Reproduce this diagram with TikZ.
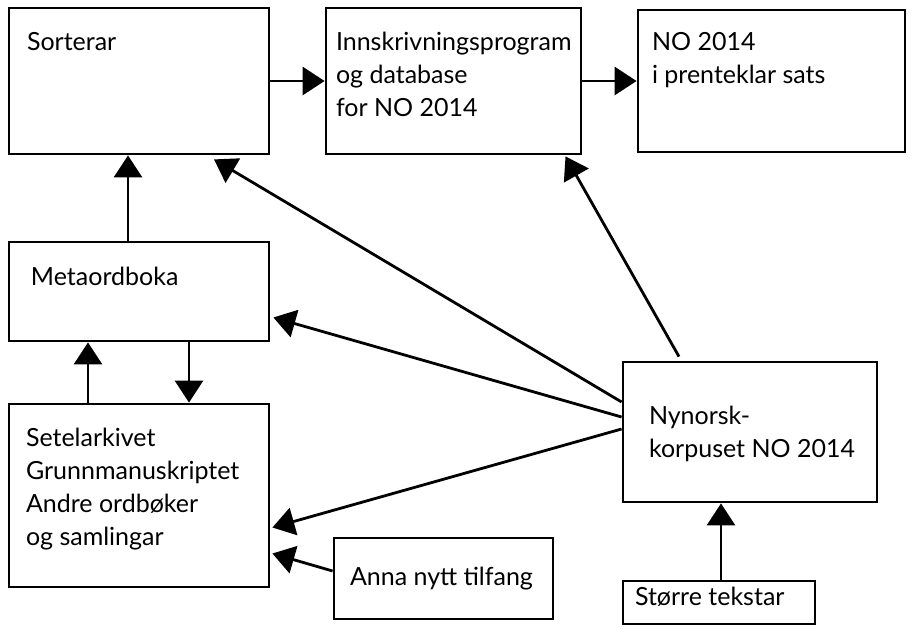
\documentclass[tikz,border=0pt]{standalone}
\usepackage{fontspec}
\setmainfont{Lato}
\usetikzlibrary{arrows.meta}

\tikzset{
  box/.style={draw, line width=1.4pt, inner sep=0pt},
  txt/.style={anchor=base west, align=left, inner sep=0pt,
    font=\fontsize{12.5}{16.5}\selectfont},
  arr/.style={line width=1.4pt, -{Triangle[length=11pt,width=14pt]}},
}

\begin{document}
\begin{tikzpicture}[x=0.5pt,y=-0.5pt]

  \useasboundingbox (0,0) rectangle (912,628);

  % boxes
  \node[box, minimum width=130pt, minimum height=73pt] (sort) at (139,81) {};
  \node[box, minimum width=127.5pt, minimum height=73pt] (innskriv) at (453.5,81) {};
  \node[box, minimum width=133.5pt, minimum height=71pt] (prent) at (771.5,81) {};
  \node[box, minimum width=130pt, minimum height=49.5pt] (meta) at (139,291.5) {};
  \node[box, minimum width=130pt, minimum height=91.5pt] (setel) at (139,495.5) {};
  \node[box, minimum width=127pt, minimum height=70pt] (korpus) at (750,432) {};
  \node[box, minimum width=109.5pt, minimum height=40.5pt] (anna) at (443.5,578.5) {};
  \node[box, minimum width=96pt, minimum height=21.5pt] (tekstar) at (719,602.5) {};

  % texts (base = last line)
  \node[txt] (sort-t) at ([shift={(9.5pt,-22pt)}]sort.north west) {Sorterar};
  \node[txt] (innskriv-t) at ([shift={(5.5pt,-55pt)}]innskriv.north west)
    {Innskrivningsprogram\\og database\\for NO 2014};
  \node[txt] (prent-t) at ([shift={(7.5pt,-37.5pt)}]prent.north west)
    {NO 2014\\i prenteklar sats};
  \node[txt] (meta-t) at ([shift={(11.5pt,-22.5pt)}]meta.north west) {Metaordboka};
  \node[txt] (setel-t) at ([shift={(9pt,-71.5pt)}]setel.north west)
    {Setelarkivet\\Grunnmanuskriptet\\Andre ordbøker\\og samlingar};
  \node[txt] (korpus-t) at ([shift={(13.5pt,-48.5pt)}]korpus.north west)
    {Nynorsk-\\korpuset NO 2014};
  \node[txt] (anna-t) at ([shift={(8.5pt,-24.5pt)}]anna.north west) {Anna nytt tilfang};
  \node[txt] (tekstar-t) at ([shift={(6.5pt,-13pt)}]tekstar.north west) {Større tekstar};

  % arrows
  \draw[arr] (sort) -- (innskriv);
  \draw[arr] (innskriv) -- (prent);
  \draw[arr] ([xshift=-5.5pt]meta.north) -- ([xshift=-5.5pt]sort.south);
  \draw[arr] ([xshift=-25.5pt]setel.north) -- ([xshift=-25.5pt]meta.south);
  \draw[arr] ([xshift=25pt]meta.south) -- ([xshift=25pt]setel.north);
  \draw[arr] ([yshift=15pt]korpus.west) -- ([shift={(37.5pt,-2pt)}]sort.south);
  \draw[arr] ([yshift=7.5pt]korpus.west) -- ([shift={(1.5pt,-13pt)}]meta.east);
  \draw[arr] ([yshift=1.5pt]korpus.west) -- ([shift={(1pt,-16pt)}]setel.east);
  \draw[arr] ([shift={(-35.5pt,2pt)}]korpus.north) -- ([shift={(56pt,-0.5pt)}]innskriv.south);
  \draw[arr] ([yshift=3.75pt]anna.west) -- ([shift={(1pt,-29pt)}]setel.east);
  \draw[arr] ([xshift=1pt]tekstar.north) -- ([xshift=1pt]tekstar.north |- korpus.south);

\end{tikzpicture}
\end{document}
